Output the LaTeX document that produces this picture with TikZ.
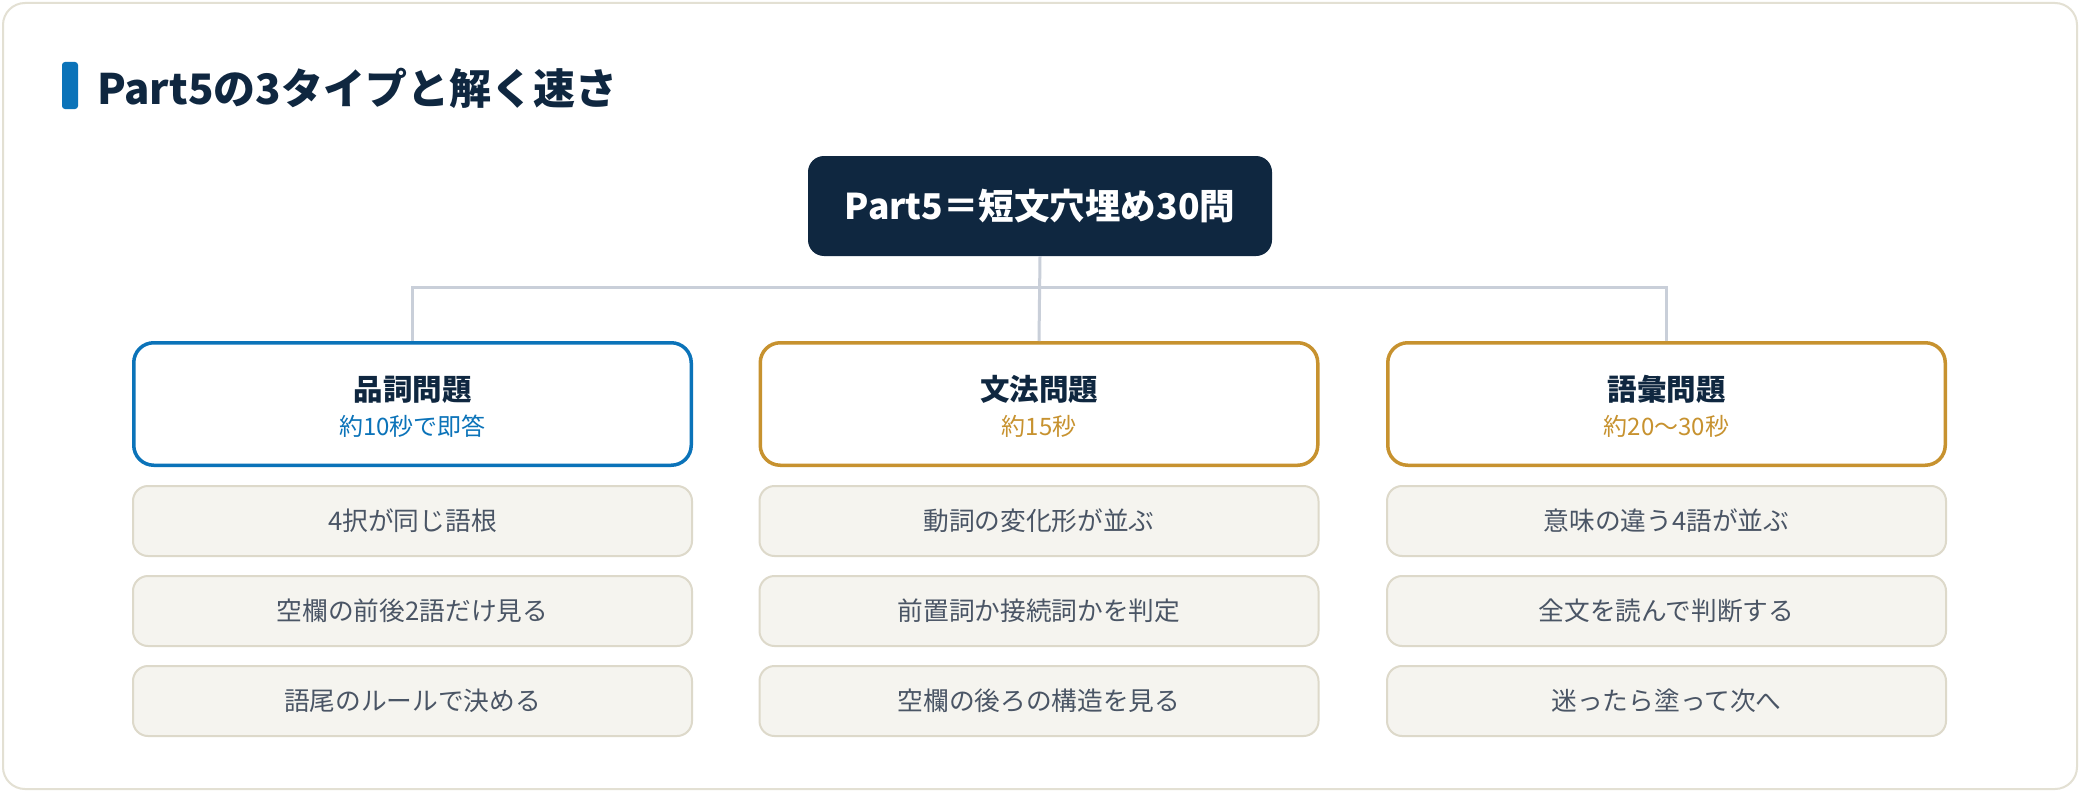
\documentclass[tikz,border=0pt]{standalone}
\usepackage{fontspec}
\setmainfont{Noto Sans CJK JP}
\definecolor{navy}{HTML}{0F2740}
\definecolor{accblue}{HTML}{0B73B9}
\definecolor{gold}{HTML}{C7922F}
\definecolor{connc}{HTML}{C9CFD9}
\definecolor{itemfill}{HTML}{F5F4EF}
\definecolor{itemline}{HTML}{DDD9CA}
\definecolor{itemtext}{HTML}{4A5565}
\definecolor{framec}{HTML}{E3E0D3}
\tikzset{
  conn/.style={draw=connc, line width=3pt},
  topbox/.style={fill=navy, rounded corners=16pt, minimum width=464pt, minimum height=100pt, inner sep=0pt,
    text=white, font=\fontsize{35.5pt}{40pt}\selectfont\bfseries, text height=30.2pt, text depth=3pt},
  catbox/.style={draw=#1, line width=3.5pt, fill=white, rounded corners=20pt, minimum width=557.5pt, minimum height=122.5pt, inner sep=0pt},
  cattitle/.style={anchor=base, inner sep=0pt, text=navy, font=\fontsize{29.5pt}{32pt}\selectfont\bfseries},
  catsub/.style={anchor=base, inner sep=0pt, text=#1, font=\fontsize{24pt}{26pt}\selectfont},
  itembox/.style={draw=itemline, line width=2pt, fill=itemfill, rounded corners=15pt, minimum width=559pt, minimum height=70pt, inner sep=0pt,
    text=itemtext, font=\fontsize{25.7pt}{28pt}\selectfont, text height=22pt, text depth=2.6pt},
}
\begin{document}
\begin{tikzpicture}[x=1pt,y=-1pt]
\useasboundingbox (0,0) rectangle (2080,792);
\fill[white] (0,0) rectangle (2080,792);
\draw[framec, line width=2pt, fill=white, rounded corners=22pt] (3,3) rectangle (2077,789);
% title
\node[fill=accblue, rounded corners=3pt, minimum width=16pt, minimum height=47pt, inner sep=0pt] (bar) at (70,85.5) {};
\node[anchor=base west, inner sep=0pt, text=navy, font=\fontsize{42pt}{46pt}\selectfont\bfseries] (title) at (97,104) {Part5の3タイプと解く速さ};
% top
\node[topbox] (top) at (1040,206) {Part5＝短文穴埋め30問};
% categories
\node[catbox=accblue] (c1) at (412.5,404) {};
\node[catbox=gold] (c2) at (1039,404) {};
\node[catbox=gold] (c3) at (1666.5,404) {};
\coordinate (bus) at (1040,287);
\draw[conn] (top.south) -- (c2.north);
\draw[conn] (c1.north) -- (c1.north |- bus) -- (c3.north |- bus) -- (c3.north);
\node[cattitle] (t1) at ([yshift=4pt]c1.center) {品詞問題};
\node[catsub=accblue] (s1) at ([yshift=-31pt]c1.center) {約10秒で即答};
\node[cattitle] (t2) at ([yshift=4pt]c2.center) {文法問題};
\node[catsub=gold] (s2) at ([yshift=-31pt]c2.center) {約15秒};
\node[cattitle] (t3) at ([yshift=4pt]c3.center) {語彙問題};
\node[catsub=gold] (s3) at ([yshift=-31pt]c3.center) {約20〜30秒};
% items
\node[itembox] (a1) at (412.5,521) {4択が同じ語根};
\node[itembox] (a2) at (412.5,611) {空欄の前後2語だけ見る};
\node[itembox] (a3) at (412.5,701) {語尾のルールで決める};
\node[itembox] (b1) at (1039,521) {動詞の変化形が並ぶ};
\node[itembox] (b2) at (1039,611) {前置詞か接続詞かを判定};
\node[itembox] (b3) at (1039,701) {空欄の後ろの構造を見る};
\node[itembox] (d1) at (1666.5,521) {意味の違う4語が並ぶ};
\node[itembox] (d2) at (1666.5,611) {全文を読んで判断する};
\node[itembox] (d3) at (1666.5,701) {迷ったら塗って次へ};
\end{tikzpicture}
\end{document}
